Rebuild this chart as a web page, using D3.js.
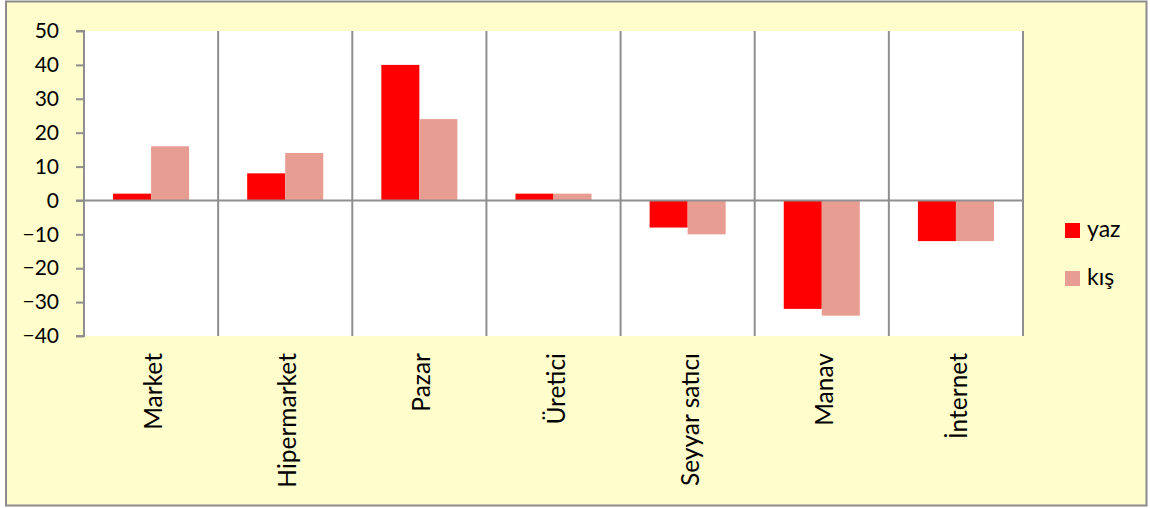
<!DOCTYPE html>
<html>
<head>
<meta charset="utf-8">
<script src="https://cdn.jsdelivr.net/npm/d3@7"></script>
<style>
  html, body { margin: 0; padding: 0; background: #ffffff; }
  svg { display: block; }
  text { font-family: Lato, "Open Sans", sans-serif; fill: #000; }
</style>
</head>
<body>
<svg id="chart" width="1150" height="508"></svg>
<script>
// Categories and the two seasonal series
const categories = ["Market", "Hipermarket", "Pazar", "Üretici", "Seyyar satıcı", "Manav", "İnternet"];
const seriesNames = ["yaz", "kış"];
const yazValues = [2, 8, 40, 2, -8, -32, -12];
const kisValues = [16, 14, 24, 2, -10, -34, -12];
const yTicks = [50, 40, 30, 20, 10, 0, -10, -20, -30, -40];

const colors = { "yaz": "#ff0000", "kış": "#e89d93" };
const gridColor = "#8f8f8f";

const svg = d3.select("#chart");

// Outer chart area
svg.append("rect")
  .attr("x", 6).attr("y", 1.5)
  .attr("width", 1140.5).attr("height", 504)
  .attr("fill", "#fffdcc")
  .attr("stroke", "#8c8c8c").attr("stroke-width", 2);

const plot = { left: 84, right: 1023, top: 31, bottom: 336 };

svg.append("rect")
  .attr("x", plot.left).attr("y", plot.top)
  .attr("width", plot.right - plot.left).attr("height", plot.bottom - plot.top)
  .attr("fill", "#ffffff");

const x = d3.scaleBand().domain(categories).range([plot.left, plot.right]).padding(0);
const y = d3.scaleLinear().domain([-40, 50]).range([plot.bottom, plot.top]);

const inner = d3.scaleBand().domain(seriesNames)
  .range([0, x.bandwidth()]).paddingOuter(0.7636).paddingInner(0);

// Vertical separators between categories
svg.append("g").selectAll("line")
  .data(categories.slice(1).concat(["__end"]))
  .join("line")
  .attr("x1", (d, i) => plot.left + x.bandwidth() * (i + 1))
  .attr("x2", (d, i) => plot.left + x.bandwidth() * (i + 1))
  .attr("y1", plot.top).attr("y2", plot.bottom)
  .attr("stroke", gridColor).attr("stroke-width", 2);

// Bars
const rows = categories.map((c, i) => ({ cat: c, values: [
  { name: "yaz", v: yazValues[i] },
  { name: "kış", v: kisValues[i] }
]}));

const groups = svg.append("g").selectAll("g")
  .data(rows).join("g")
  .attr("transform", d => `translate(${x(d.cat)},0)`);

groups.selectAll("rect")
  .data(d => d.values).join("rect")
  .attr("x", d => inner(d.name))
  .attr("width", inner.bandwidth())
  .attr("y", d => y(Math.max(0, d.v)))
  .attr("height", d => Math.abs(y(d.v) - y(0)))
  .attr("fill", d => colors[d.name]);

// Zero baseline
svg.append("line")
  .attr("x1", plot.left - 8).attr("x2", plot.right)
  .attr("y1", y(0)).attr("y2", y(0))
  .attr("stroke", gridColor).attr("stroke-width", 2);

// Y axis
const yAxis = svg.append("g")
  .attr("transform", `translate(${plot.left},0)`)
  .call(d3.axisLeft(y).tickValues(yTicks).tickSize(8).tickPadding(17).tickFormat(d3.format("d")));
yAxis.select(".domain").attr("stroke", gridColor).attr("stroke-width", 2)
  .attr("d", `M-8,${plot.top}H0V${plot.bottom}H-8`);
yAxis.selectAll(".tick line").attr("stroke", gridColor).attr("stroke-width", 2);
yAxis.selectAll(".tick text")
  .attr("font-size", 21).attr("font-family", "Lato, 'Open Sans', sans-serif").attr("fill", "#000");

// Category labels, rotated
svg.append("g").selectAll("text")
  .data(categories).join("text")
  .attr("transform", d => `translate(${x(d) + x.bandwidth() / 2 + 11},${plot.bottom + 17}) rotate(-90)`)
  .attr("text-anchor", "end")
  .attr("font-size", 24.5)
  .text(d => d);

// Legend
const legend = svg.append("g").attr("transform", "translate(1065,223)");
seriesNames.forEach((name, i) => {
  const g = legend.append("g").attr("transform", `translate(0,${i * 48})`);
  g.append("rect").attr("width", 15).attr("height", 15).attr("fill", colors[name]);
  g.append("text").attr("x", 22).attr("y", 14).attr("font-size", 23).text(name);
});
</script>
</body>
</html>
